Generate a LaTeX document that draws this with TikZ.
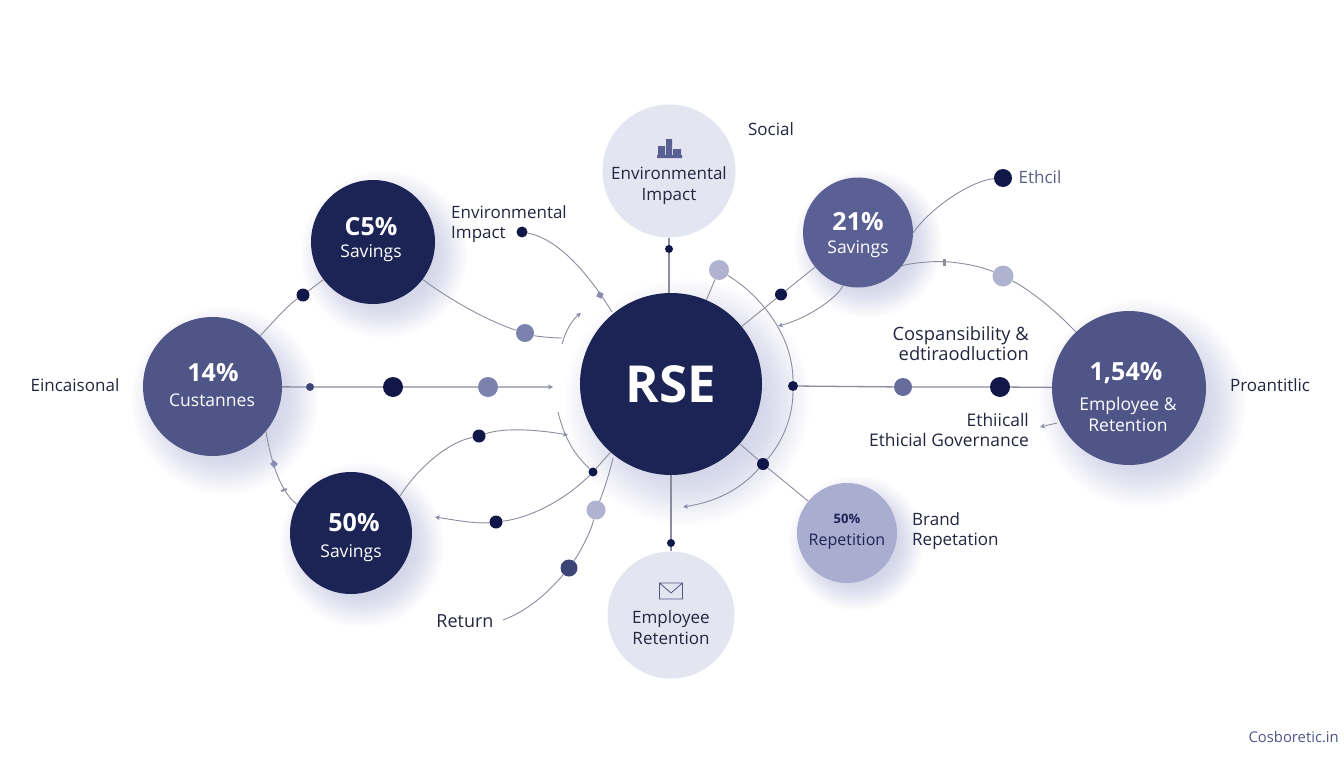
\documentclass[tikz,border=0pt]{standalone}
\usepackage{fontspec}
\setmainfont{Open Sans}
\usetikzlibrary{arrows.meta,shapes.geometric}
\definecolor{cdark}{HTML}{1B2455}
\definecolor{cmid}{HTML}{4F5587}
\definecolor{cmidb}{HTML}{5A6093}
\definecolor{csoft}{HTML}{A9ADCF}
\definecolor{clight}{HTML}{E3E6F1}
\definecolor{cdot}{HTML}{12174A}
\definecolor{cdotb}{HTML}{7C82AE}
\definecolor{cdotc}{HTML}{666C9C}
\definecolor{cdotd}{HTML}{3C4478}
\definecolor{cdote}{HTML}{B0B3CF}
\definecolor{cline}{HTML}{8B8D9E}
\definecolor{cink}{HTML}{23263F}
\definecolor{cgrey}{HTML}{5B5F85}
\definecolor{cshadow}{HTML}{5A6090}
\definecolor{ctip}{HTML}{8A8DB0}
\pgfdeclarelayer{shadowlayer}
\pgfdeclarelayer{linelayer}
\pgfsetlayers{shadowlayer,linelayer,main}
\newcommand{\softdrop}[3]{\begin{pgfonlayer}{shadowlayer}\foreach \k in {0,...,23}{\fill[cshadow,fill opacity=0.009] (#1+0.18*#3,#2+0.2*#3) circle ({(0.8+0.024*\k)*#3});}\end{pgfonlayer}}
\tikzset{
  disc/.style={circle,inner sep=0pt,align=center,minimum size=#1},
  dot/.style={circle,inner sep=0pt,minimum size=#1,fill=cdot},
  txt/.style={text=cink,inner sep=0pt,font=\fontsize{17}{20}\selectfont},
  onlight/.style={text=cink,inner sep=0pt,align=center,font=\fontsize{17}{21}\selectfont},
  conn/.style={draw=cline,line width=0.9pt},
  stem/.style={draw=cline,line width=1.3pt},
  tip/.style={-{Stealth[length=5pt,width=5pt,color=ctip]}},
  blob/.style={diamond,inner sep=0pt,minimum size=#1,fill=ctip},
  tickmark/.style={rectangle,inner sep=0pt,minimum width=3pt,minimum height=7pt,fill=cline},
  pct/.style={font=\fontsize{25}{28}\selectfont\bfseries},
  sub/.style={font=\fontsize{17.5}{21}\selectfont},
}
\begin{document}
\begin{tikzpicture}[x=1pt,y=-1pt]
\useasboundingbox (0,0) rectangle (1344,768);
\begin{pgfonlayer}{shadowlayer}
\fill[white] (0,0) rectangle (1344,768);
\end{pgfonlayer}
% shadows
\softdrop{671}{384}{91}
\softdrop{373}{242}{62}
\softdrop{858}{232.5}{55}
\softdrop{1129}{388}{77}
\softdrop{212.5}{386.5}{69.5}
\softdrop{351}{533}{61}
\softdrop{847}{533}{50}
% main discs
\node[disc=182pt,fill=cdark,text=white,font=\fontsize{51}{51}\selectfont\bfseries] (rse) at (671,384) {RSE};
\node[disc=133pt,fill=clight] (env) at (669,171) {};
\node[onlight] (envt) at (669,185.5) {Environmental\\Impact};
\node[disc=127pt,fill=clight] (emp) at (671,615) {};
\node[onlight] (empt) at (671,628) {Employee\\Retention};
\node[disc=124pt,fill=cdark,text=white] (a) at (373,242) {};
\node[text=white,pct,inner sep=0pt] (at) at (371,227) {C5\%};
\node[text=white,sub,inner sep=0pt] (as) at (371,253) {Savings};
\node[disc=110pt,fill=cmidb] (b) at (858,232.5) {};
\node[text=white,pct,inner sep=0pt] (bt) at (858,222) {21\%};
\node[text=white,sub,inner sep=0pt] (bs) at (858,249) {Savings};
\node[disc=154pt,fill=cmid] (c) at (1129,388) {};
\node[text=white,pct,inner sep=0pt] (ct) at (1126,373) {1,54\%};
\node[text=white,sub,inner sep=0pt,align=center] (cs) at (1128,414) {Employee \&\\Retention};
\node[disc=139pt,fill=cmid] (d) at (212.5,386.5) {};
\node[text=white,pct,inner sep=0pt] (dt) at (213,373) {14\%};
\node[text=white,sub,inner sep=0pt] (ds) at (212,400.5) {Custannes};
\node[disc=122pt,fill=cdark] (e) at (351,533) {};
\node[text=white,pct,inner sep=0pt] (et) at (354,523) {50\%};
\node[text=white,sub,inner sep=0pt] (es) at (351,553) {Savings};
\node[disc=100pt,fill=csoft] (f) at (847,533) {};
\node[text=cdark,inner sep=0pt,font=\fontsize{13}{15}\selectfont\bfseries] (ft) at (847,519) {50\%};
\node[text=cdark,inner sep=0pt,font=\fontsize{16}{18}\selectfont] (fs) at (847,542) {Repetition};
% dots
\node[dot=11pt] (d1) at (522,232) {};
\node[dot=8pt] (d2) at (669,249) {};
\node[dot=20pt,fill=cdote] (d3) at (719,270) {};
\node[dot=12pt] (d4) at (781,294.5) {};
\node[dot=18pt,fill=cdotb] (d5) at (525,333) {};
\node[dot=13pt] (d6) at (303,295) {};
\node[dot=8pt,fill=cdotd] (d7) at (310,387) {};
\node[dot=20pt] (d8) at (393,387) {};
\node[dot=20pt,fill=cdotb] (d9) at (488,387) {};
\node[dot=13pt] (d10) at (479,436) {};
\node[dot=9pt] (d11) at (593,472) {};
\node[dot=13pt] (d12) at (496,522) {};
\node[dot=19pt,fill=cdote] (d13) at (596,510) {};
\node[dot=17pt,fill=cdotd] (d14) at (569,568) {};
\node[dot=8pt] (d15) at (671,543) {};
\node[dot=10pt] (d16) at (793,386) {};
\node[dot=12pt] (d17) at (763,464) {};
\node[dot=18pt,fill=cdotc] (d18) at (903,387) {};
\node[dot=20pt] (d19) at (1000,387) {};
\node[dot=18pt] (d20) at (1003,178) {};
\node[dot=21pt,fill=cdote] (d21) at (1003,276) {};
% free ends
\coordinate (r1) at (612,312);
\coordinate (r2) at (562,338);
\coordinate (r3) at (562,344);
\coordinate (r4) at (581,313);
\coordinate (r5) at (558,412);
\coordinate (r6) at (568,435);
\coordinate (r7) at (435,517);
\coordinate (r8) at (503,620);
\coordinate (r9) at (613,458);
\coordinate (r10) at (683,507);
\coordinate (r11) at (778,326);
\coordinate (r12) at (1040,427);
\coordinate (r13) at (1057,423);
\coordinate (r14) at (553,387);
% connectors
\begin{pgfonlayer}{linelayer}
\draw[stem] (env) -- (env |- rse);
\draw[stem] (rse) -- (emp);
\draw[conn] (d3) -- (rse);
\draw[conn] (rse) -- (d4) -- (b);
\draw[conn] (rse) -- (d17) -- (f);
\draw[stem] (d16) -- (d18) -- (d19) -- (c);
\draw[stem,tip] (d) -- (d7) -- (d8) -- (d9) -- (r14);
\draw[conn] (d) .. controls (275,320) and (288,305) .. (d6) -- (a);
\draw[conn] (d.-40) .. controls (270,455) and (278,490) .. (e.152);
\draw[conn] (a) .. controls (450,300) and (490,322) .. (d5) .. controls (535,336) and (550,338) .. (r2);
\draw[conn,tip] (r3) .. controls (566,330) and (572,320) .. (r4);
\draw[conn] (d1) .. controls (555,238) and (585,268) .. (r1);
\draw[conn,tip] (e.37) .. controls (415,472) and (445,443) .. (d10) .. controls (505,427) and (540,430) .. (r6);
\draw[conn] (r5) .. controls (565,440) and (575,455) .. (d11);
\draw[conn] (d11) -- (rse);
\draw[conn,tip] (d11) .. controls (565,500) and (530,518) .. (d12) .. controls (475,524) and (455,520) .. (r7);
\draw[conn] (r9) .. controls (608,480) and (600,500) .. (d13) .. controls (590,535) and (578,555) .. (d14) .. controls (550,590) and (530,610) .. (r8);
\draw[conn] (d3) .. controls (760,295) and (793,335) .. (d16);
\draw[conn,tip] (d16) .. controls (793,420) and (780,445) .. (d17) .. controls (740,490) and (715,502) .. (r10);
\draw[conn] (d20) .. controls (975,180) and (935,203) .. (b.east);
\draw[conn] (b) .. controls (900,265) and (930,260) .. (950,262) .. controls (970,264) and (985,268) .. (d21) .. controls (1030,290) and (1055,310) .. (c);
\draw[conn,tip] (b) .. controls (840,295) and (810,318) .. (r11);
\draw[conn,tip] (r13) -- (r12);
\end{pgfonlayer}
% small marks
\node[blob=8pt,rotate=20] (m1) at (600,295) {};
\node[blob=8pt] (m2) at (274,464) {};
\node[tickmark,rotate=-70,minimum height=6pt,minimum width=2pt] (m4) at (284,490) {};
\node[tickmark] (m3) at (944,262) {};
% building icon
\fill[cmidb] (657,158) rectangle (682,155) (658,155) rectangle (665,146) (666,155) rectangle (672,139) (673,155) rectangle (681,149);
% envelope icon
\draw[cmid,line width=0.8pt] (659.5,583) rectangle (682.5,599) (659.5,583) -- (671,593) -- (682.5,583);
% free labels
\node[txt] (l1) at (771,129) {Social};
\node[txt,anchor=west,align=left] (l2) at (451,224) {Environmental\\Impact};
\node[txt,text=cgrey] (l3) at (1040,177) {Ethcil};
\node[txt,align=right,anchor=east,font=\fontsize{18.3}{20}\selectfont] (l4) at (1029,344) {Cospansibility \&\\edtiraodluction};
\node[txt,align=right,anchor=east,font=\fontsize{17.4}{20}\selectfont] (l5) at (1029,430) {Ethiicall\\Ethicial Governance};
\node[txt,align=left,anchor=west] (l6) at (912,531) {Brand\\Repetation};
\node[txt] (l7) at (1270,385) {Proantitlic};
\node[txt] (l8) at (75,385) {Eincaisonal};
\node[txt,font=\fontsize{18}{20}\selectfont] (l9) at (465,621) {Return};
\node[inner sep=0pt,anchor=east,text=cmid,font=\fontsize{14.8}{16}\selectfont] (l10) at (1339,737) {Cosboretic.in};
\end{tikzpicture}
\end{document}
